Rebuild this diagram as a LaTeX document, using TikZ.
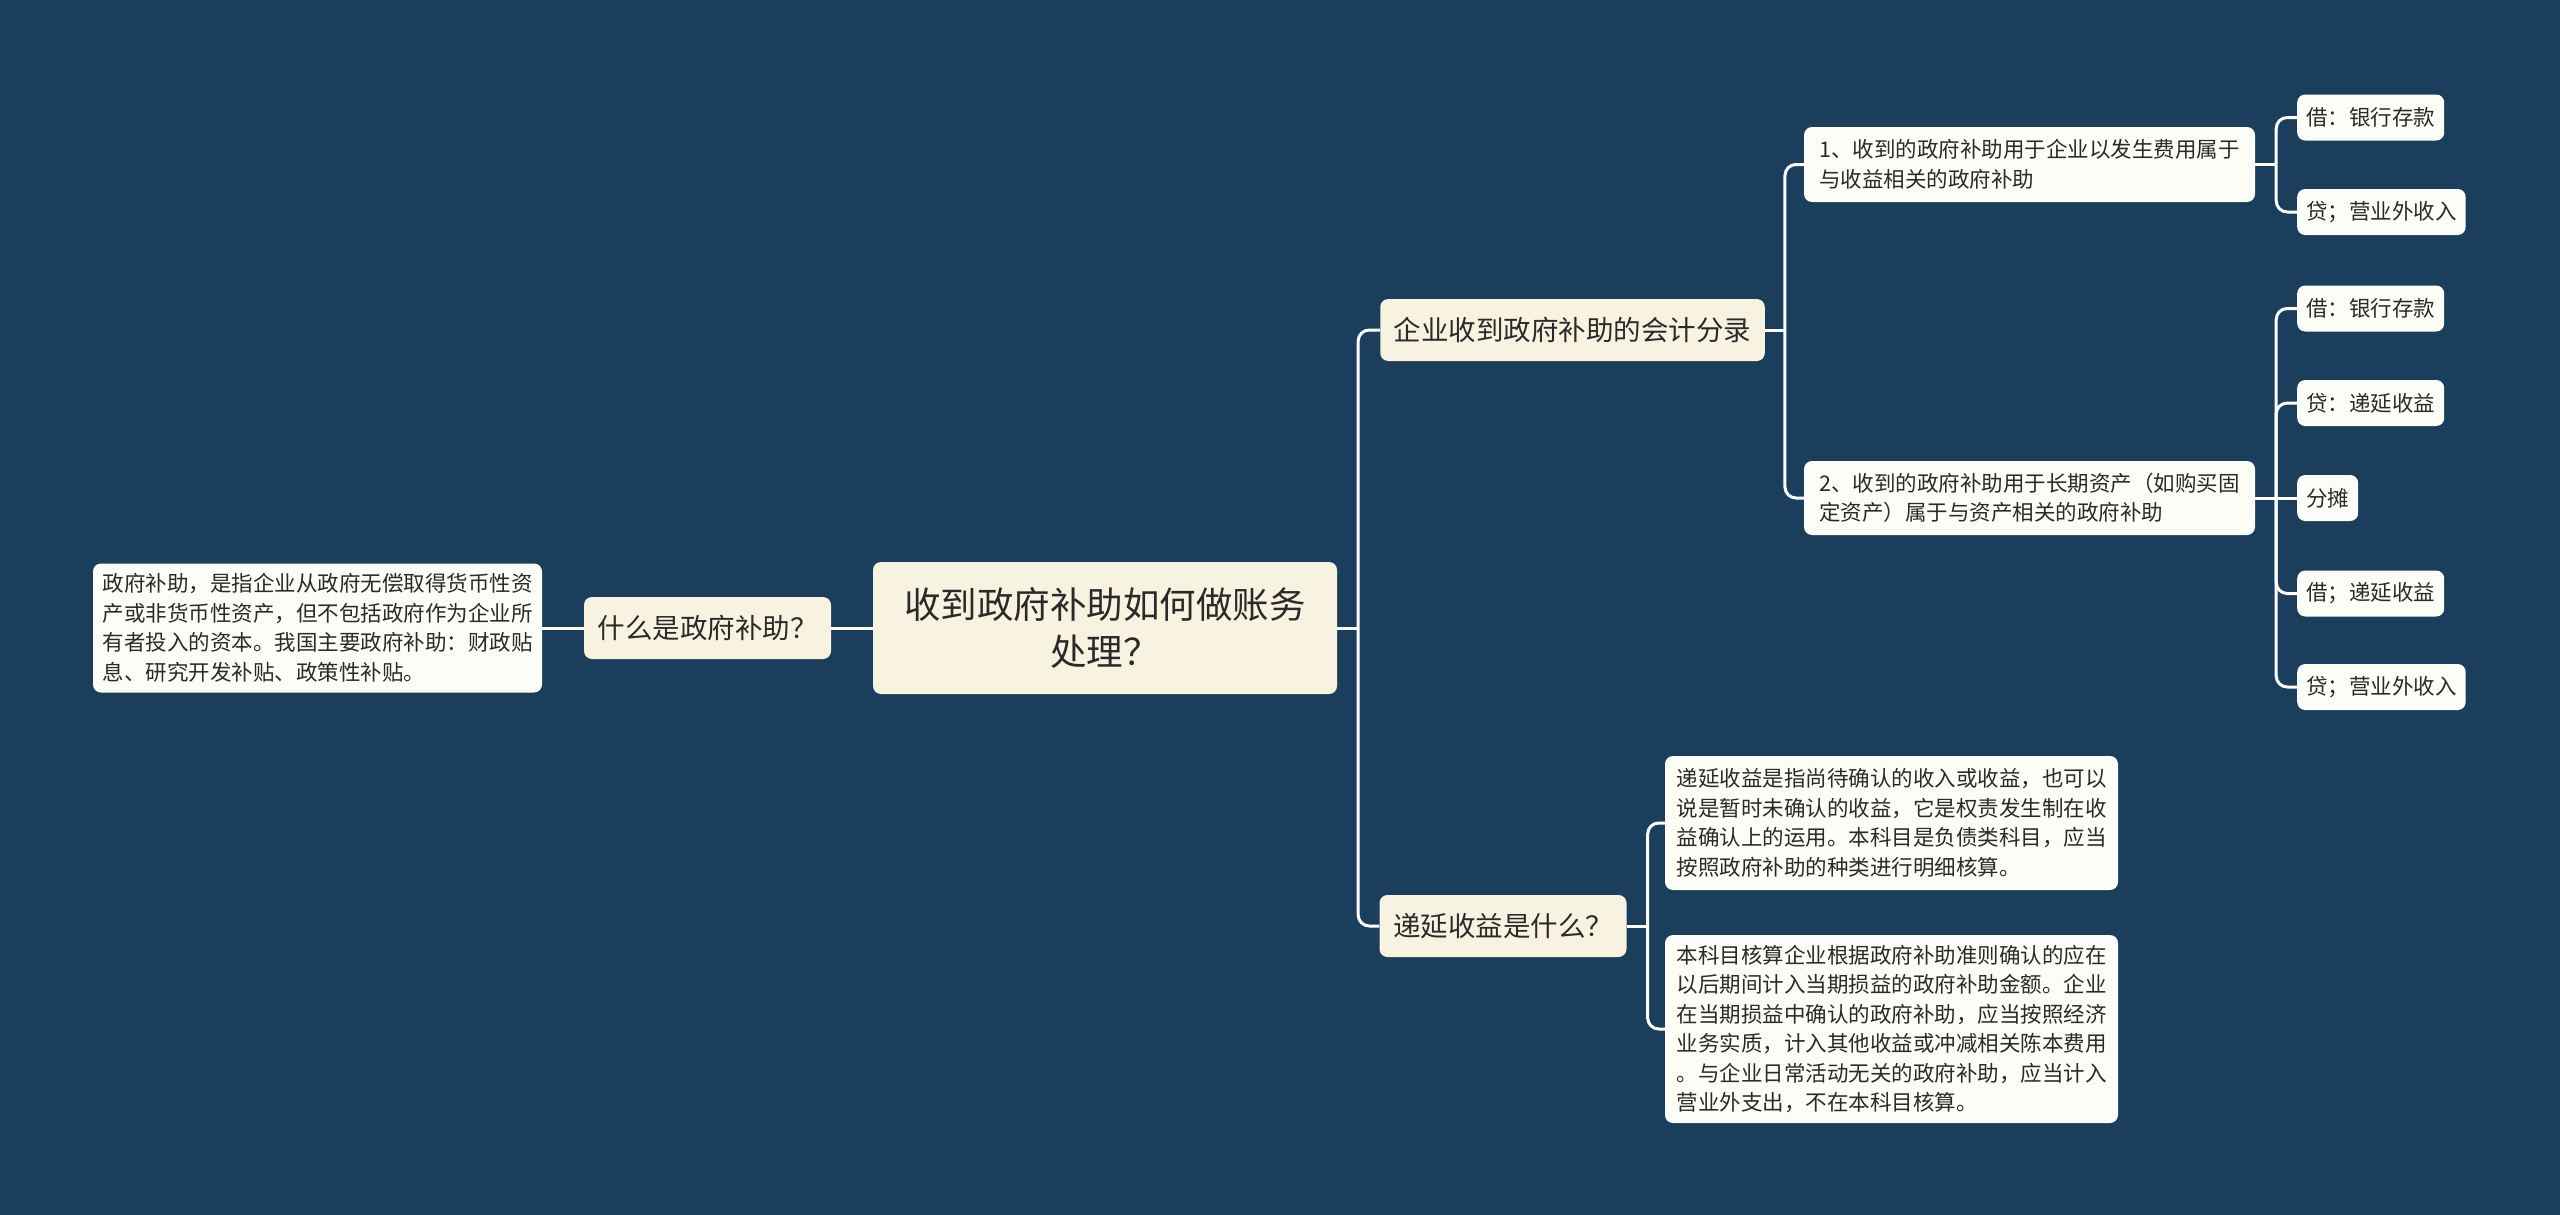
\documentclass[tikz,border=0pt]{standalone}
\usepackage{fontspec}
\setmainfont{Noto Sans CJK SC}
\definecolor{nen}{HTML}{1A3E5C}
\definecolor{kem}{HTML}{F8F3E0}
\definecolor{trang}{HTML}{FDFDF8}
\definecolor{chu}{HTML}{2A2A2A}

\begin{document}
\begin{tikzpicture}[x=1pt, y=-1pt,
    hop/.style={fill=kem, rounded corners=8pt, text=chu, inner xsep=10pt, inner ysep=0pt},
    goc/.style={hop, align=center, font=\fontsize{36.5}{47}\selectfont, minimum width=464pt, minimum height=132pt},
    nhanh/.style={hop, font=\fontsize{27.5}{34}\selectfont, minimum height=62pt, inner xsep=13.5pt},
    la/.style={hop, fill=trang, align=left, font=\fontsize{21.5}{29.5}\selectfont, minimum height=46pt, inner xsep=9pt},
    noi/.style={draw=white, line width=3pt},
    cong/.style={noi, rounded corners=11pt}]
    % Nền và khung hình
    \fill[nen] (0, 0) rectangle (2560, 1215);
    \useasboundingbox (0, 0) rectangle (2560, 1215);

    % 1. Nút gốc
    \node[goc] (goc) at (1105, 628) {收到政府补助如何做账务\\处理？};

    % 2. Nhánh trái
    \node[nhanh] (hoi) at (707.5, 628) {什么是政府补助？};
    \node[la, minimum width=449pt, minimum height=129pt] (dinhnghia) at (317.5, 628)
        {政府补助，是指企业从政府无偿取得货币性资\\产或非货币性资产，但不包括政府作为企业所\\有者投入的资本。我国主要政府补助：财政贴\\息、研究开发补贴、政策性补贴。};

    % 3. Nhánh phải: bút toán
    \node[nhanh] (butoan) at (1572.5, 330) {企业收到政府补助的会计分录};
    \node[la, minimum width=451pt, minimum height=75pt] (muc1) at (2029.5, 164.5)
        {1、收到的政府补助用于企业以发生费用属于\\与收益相关的政府补助};
    \node[la, minimum width=451pt, minimum height=74pt] (muc2) at (2029.5, 498)
        {2、收到的政府补助用于长期资产（如购买固\\定资产）属于与资产相关的政府补助};
    \node[la, anchor=west] (no1) at (2297, 117.5) {借：银行存款};
    \node[la, anchor=west] (co1) at (2297, 212) {贷；营业外收入};
    \node[la, anchor=west] (no2) at (2297, 308.5) {借：银行存款};
    \node[la, anchor=west] (co2) at (2297, 403) {贷：递延收益};
    \node[la, anchor=west] (phanbo) at (2297, 498) {分摊};
    \node[la, anchor=west] (no3) at (2297, 593.5) {借；递延收益};
    \node[la, anchor=west] (co3) at (2297, 687) {贷；营业外收入};

    % 4. Nhánh phải: doanh thu hoãn lại
    \node[nhanh] (hoanlai) at (1503, 926) {递延收益是什么？};
    \node[la, minimum width=453pt, minimum height=134pt] (giaithich1) at (1891.5, 823)
        {递延收益是指尚待确认的收入或收益，也可以\\说是暂时未确认的收益，它是权责发生制在收\\益确认上的运用。本科目是负债类科目，应当\\按照政府补助的种类进行明细核算。};
    \node[la, minimum width=453pt, minimum height=188pt] (giaithich2) at (1891.5, 1029)
        {本科目核算企业根据政府补助准则确认的应在\\以后期间计入当期损益的政府补助金额。企业\\在当期损益中确认的政府补助，应当按照经济\\业务实质，计入其他收益或冲减相关陈本费用\\。与企业日常活动无关的政府补助，应当计入\\营业外支出，不在本科目核算。};

    % 5. Đường nối
    \draw[noi] (goc.west) -- (hoi.east);
    \draw[noi] (hoi.west) -- (dinhnghia.east);

    \draw[noi] (goc.east) -- ++(21, 0) coordinate (tr0);
    \draw[cong] (tr0) |- (butoan.west);
    \draw[cong] (tr0) |- (hoanlai.west);

    \draw[noi] (butoan.east) -- ++(20, 0) coordinate (tr1);
    \draw[cong] (tr1) |- (muc1.west);
    \draw[cong] (tr1) |- (muc2.west);

    \draw[noi] (muc1.east) -- ++(21, 0) coordinate (tr2);
    \draw[cong] (tr2) |- (no1.west);
    \draw[cong] (tr2) |- (co1.west);

    \draw[noi] (muc2.east) -- ++(21, 0) coordinate (tr3);
    \foreach \la in {no2, co2, no3, co3}
        \draw[cong] (tr3) |- (\la.west);
    \draw[noi] (tr3) -- (phanbo.west);

    \draw[noi] (hoanlai.east) -- ++(21, 0) coordinate (tr4);
    \draw[cong] (tr4) |- (giaithich1.west);
    \draw[cong] (tr4) |- (giaithich2.west);

\end{tikzpicture}
\end{document}
